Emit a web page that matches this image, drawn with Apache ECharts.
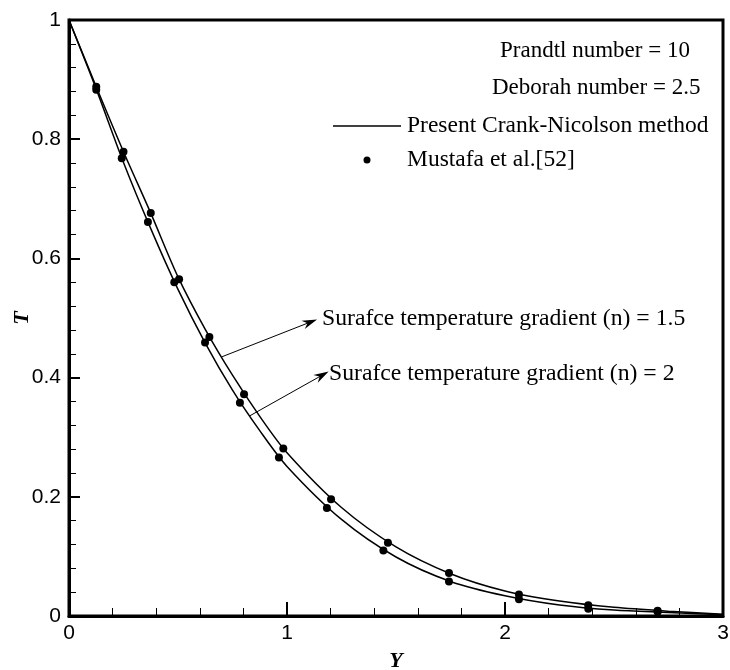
<!DOCTYPE html>
<html><head><meta charset="utf-8">
<script src="https://cdn.jsdelivr.net/npm/echarts@6/dist/echarts.min.js"></script>
<style>html,body{margin:0;padding:0;background:#fff}#c{width:730px;height:670px}</style>
</head><body><div id="c"></div>
<script>
// Present Crank-Nicolson curves
var lineX = [0, 0.125, 0.25, 0.375, 0.5, 0.625, 0.75, 0.875, 1.0, 1.25, 1.5, 1.75, 2.0, 2.25, 2.5, 2.75, 3.0];
var lineN15 = [1, 0.888, 0.779, 0.676, 0.569, 0.481, 0.404, 0.335, 0.274, 0.182, 0.116, 0.071, 0.042, 0.025, 0.0145, 0.008, 0.003];
var lineN2  = [1, 0.884, 0.761, 0.650, 0.548, 0.458, 0.379, 0.311, 0.251, 0.162, 0.099, 0.058, 0.034, 0.0185, 0.010, 0.006, 0.002];
// Mustafa et al. points
var mustX15 = [0.125, 0.25, 0.375, 0.505, 0.644, 0.803, 0.983, 1.202, 1.463, 1.743, 2.064, 2.382, 2.70];
var mustT15 = [0.888, 0.779, 0.676, 0.565, 0.468, 0.372, 0.281, 0.196, 0.123, 0.072, 0.036, 0.018, 0.009];
var mustX2  = [0.125, 0.242, 0.362, 0.483, 0.624, 0.784, 0.963, 1.183, 1.442, 1.743, 2.064, 2.382, 2.70];
var mustT2  = [0.883, 0.768, 0.661, 0.560, 0.459, 0.358, 0.266, 0.181, 0.110, 0.058, 0.028, 0.012, 0.007];
var lineName = 'Present Crank-Nicolson method';
var pointName = 'Mustafa et al.[52]';
var note1 = 'Prandtl number = 10';
var note2 = 'Deborah number = 2.5';
var label15 = 'Surafce temperature gradient (n) = 1.5';
var label2 = 'Surafce temperature gradient (n) = 2';
var arrow15 = [[0.702, 0.435], [1.106, 0.493]];
var arrow2 = [[0.830, 0.336], [1.161, 0.404]];

function zip(xs, ys){ return xs.map(function(x,i){return [x, ys[i]];}); }

var chart = echarts.init(document.getElementById('c'), null, {renderer:'canvas'});
var serif = 'Liberation Serif';
var sans = 'Liberation Sans';
var arrowSym = 'path://M0,0 L6,16 L0,11 L-6,16 Z';
var noteFont = '23px "Liberation Serif"';
var annFont = '23.7px "Liberation Serif"';

function arrowMark(a){
  return {
    silent: true, animation: false,
    symbol: ['none', arrowSym], symbolSize: [9, 15],
    label: {show: false},
    lineStyle: {color: '#000', width: 1, type: 'solid'},
    emphasis: {disabled: true},
    data: [[{coord: a[0]}, {coord: a[1]}]]
  };
}

var option = {
  animation: false,
  backgroundColor: '#fff',
  grid: {left: 69, right: 7, top: 20, bottom: 54, containLabel: false, outerBoundsMode: 'none',
         show: true, borderColor: '#000', borderWidth: 3, backgroundColor: 'transparent'},
  legend: {
    left: 328, top: 109, orient: 'vertical', itemWidth: 68, itemHeight: 7, itemGap: 10,
    textStyle: {fontFamily: serif, fontSize: 23.5, color: '#000', padding: [0,0,0,1], lineHeight: 23},
    selectedMode: false,
    data: [
      {name: lineName, icon: 'path://M0,0 L68,0 L68,1.6 L0,1.6 Z', itemStyle:{color:'#000'}},
      {name: pointName, icon: 'circle', itemStyle: {color: '#000', opacity: 1}}
    ]
  },
  xAxis: {
    type: 'value', min: 0, max: 3, interval: 1,
    name: 'Y', nameLocation: 'middle', nameGap: 34,
    nameTextStyle: {fontFamily: serif, fontSize: 22, fontWeight: 'bold', fontStyle: 'italic', color: '#000'},
    axisLine: {show: true, onZero: false, lineStyle: {color: '#000', width: 3}},
    axisTick: {show: true, inside: true, length: 14, lineStyle: {color: '#000', width: 2}},
    minorTick: {show: true, splitNumber: 5, length: 8, lineStyle: {color: '#000', width: 1}},
    axisLabel: {fontFamily: sans, fontSize: 21, color: '#000', margin: 7},
    splitLine: {show: false}
  },
  yAxis: {
    type: 'value', min: 0, max: 1, interval: 0.2,
    name: 'T', nameLocation: 'middle', nameGap: 36, nameMoveOverlap: false,
    nameTextStyle: {fontFamily: serif, fontSize: 22, fontWeight: 'bold', fontStyle: 'italic', color: '#000'},
    axisLine: {show: true, onZero: false, lineStyle: {color: '#000', width: 3}},
    axisTick: {show: true, inside: true, length: 11, lineStyle: {color: '#000', width: 2}},
    minorTick: {show: true, splitNumber: 5, length: 7, lineStyle: {color: '#000', width: 1}},
    axisLabel: {fontFamily: sans, fontSize: 21, color: '#000', margin: 8,
      formatter: function(v){ return String(Math.round(v*10)/10); }},
    splitLine: {show: false}
  },
  series: [
    {type: 'line', name: lineName, data: zip(lineX, lineN15), smooth: 0.3, symbol: 'none',
     lineStyle: {color: '#000', width: 1.5}, itemStyle: {color: '#000'}, z: 3, markLine: arrowMark(arrow15)},
    {type: 'line', name: lineName, data: zip(lineX, lineN2), smooth: 0.3, symbol: 'none',
     lineStyle: {color: '#000', width: 1.5}, itemStyle: {color: '#000'}, z: 3, markLine: arrowMark(arrow2)},
    {type: 'scatter', name: pointName, data: zip(mustX15, mustT15), symbol: 'circle', symbolSize: 8,
     itemStyle: {color: '#000', opacity: 1}, z: 4},
    {type: 'scatter', name: pointName, data: zip(mustX2, mustT2), symbol: 'circle', symbolSize: 8,
     itemStyle: {color: '#000', opacity: 1}, z: 4}
  ],
  graphic: [
    {type: 'text', left: 500, top: 39, style: {text: note1, font: noteFont, fill: '#000'}},
    {type: 'text', left: 492, top: 76, style: {text: note2, font: noteFont, fill: '#000'}},
    {type: 'text', left: 322, top: 307, style: {text: label15, font: annFont, fill: '#000'}},
    {type: 'text', left: 329, top: 362, style: {text: label2, font: annFont, fill: '#000'}}
  ]
};
chart.setOption(option);
</script>
</body></html>
